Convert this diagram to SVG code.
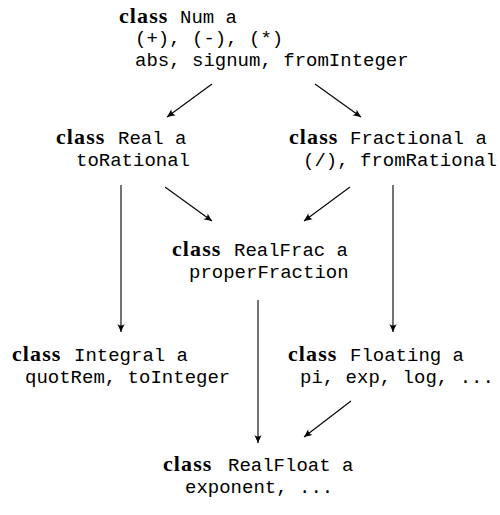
<svg xmlns="http://www.w3.org/2000/svg" width="500" height="515" viewBox="0 0 500 515">
  <defs>
    <style>
      .kw { font-family: "Liberation Serif", "DejaVu Serif", serif; font-weight: bold; font-size: 22px; letter-spacing: 1.1px; fill: #000; }
      .tt { font-family: "Liberation Mono", "DejaVu Sans Mono", monospace; font-size: 19px; fill: #000; }
      .edge { stroke: #000; stroke-width: 1.1; fill: none; marker-end: url(#head); }
    </style>
    <marker id="head" viewBox="-9 -5 10 10" refX="0" refY="0" markerWidth="10" markerHeight="10" markerUnits="userSpaceOnUse" orient="auto">
      <path d="M0,0 L-8,-3.6 Q-5,0 -8,3.6 Z" fill="#000"/>
    </marker>
  </defs>
  <rect width="500" height="515" fill="#fff"/>

  <!-- type class hierarchy -->
  <g id="num">
    <text class="kw" x="119" y="23">class</text>
    <text class="tt" x="180" y="23">Num a</text>
    <text class="tt" x="135" y="44">(+), (-), (*)</text>
    <text class="tt" x="135" y="66">abs, signum, fromInteger</text>
  </g>

  <g id="real">
    <text class="kw" x="56" y="144">class</text>
    <text class="tt" x="118" y="144">Real a</text>
    <text class="tt" x="76" y="166">toRational</text>
  </g>

  <g id="fractional">
    <text class="kw" x="289" y="144">class</text>
    <text class="tt" x="350" y="144">Fractional a</text>
    <text class="tt" x="303" y="166">(/), fromRational</text>
  </g>

  <g id="realfrac">
    <text class="kw" x="172" y="256">class</text>
    <text class="tt" x="234" y="256">RealFrac a</text>
    <text class="tt" x="189" y="278">properFraction</text>
  </g>

  <g id="integral">
    <text class="kw" x="12" y="361">class</text>
    <text class="tt" x="74" y="361">Integral a</text>
    <text class="tt" x="25" y="383">quotRem, toInteger</text>
  </g>

  <g id="floating">
    <text class="kw" x="288" y="361">class</text>
    <text class="tt" x="350" y="361">Floating a</text>
    <text class="tt" x="300" y="383">pi, exp, log, ...</text>
  </g>

  <g id="realfloat">
    <text class="kw" x="163" y="471">class</text>
    <text class="tt" x="228" y="471">RealFloat a</text>
    <text class="tt" x="185" y="493">exponent, ...</text>
  </g>

  <!-- superclass arrows -->
  <g id="connectors">
    <line class="edge" x1="212" y1="84" x2="167" y2="117"/>
    <line class="edge" x1="315" y1="84" x2="361" y2="117"/>
    <line class="edge" x1="165" y1="187" x2="212" y2="221"/>
    <line class="edge" x1="350" y1="187" x2="304" y2="221"/>
    <line class="edge" x1="121" y1="185" x2="121" y2="332"/>
    <line class="edge" x1="393" y1="185" x2="393" y2="332"/>
    <line class="edge" x1="258" y1="300" x2="258" y2="443"/>
    <line class="edge" x1="351" y1="401" x2="304" y2="437"/>
  </g>
</svg>
